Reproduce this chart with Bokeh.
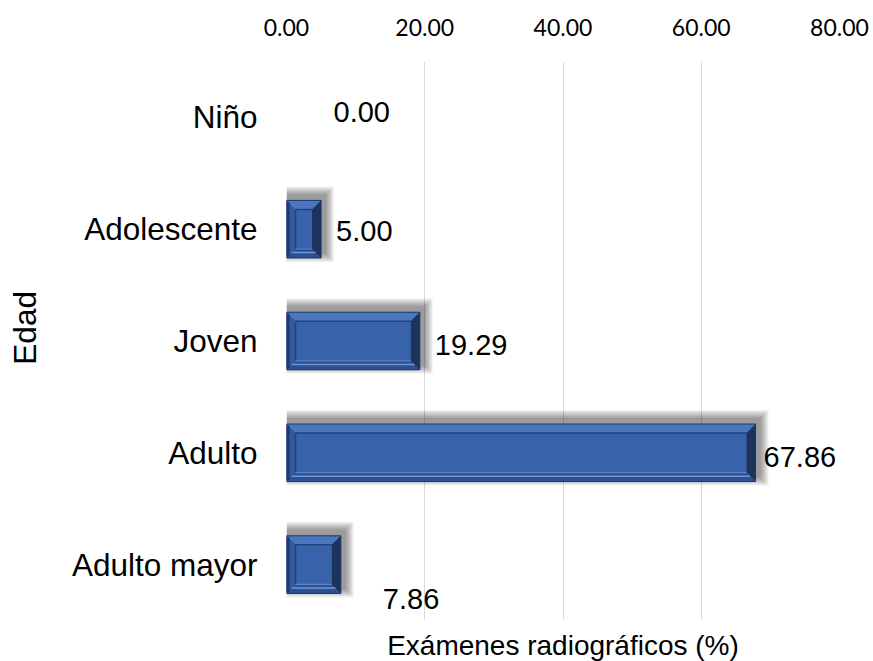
from bokeh.plotting import figure
from bokeh.models import Range1d, FixedTicker, LinearAxis, ColumnDataSource
from bokeh.core.properties import value
from bokeh.embed import file_html
from bokeh.resources import INLINE

# Data: share of radiographic exams by age group (%)
categories = ["Niño", "Adolescente", "Joven", "Adulto", "Adulto mayor"]
percentages = [0.00, 5.00, 19.29, 67.86, 7.86]
x_ticks = [0, 20, 40, 60, 80]
x_tick_labels = ["0.00", "20.00", "40.00", "60.00", "80.00"]

# Label nudges in screen pixels (x to the right, y downward)
label_dx = [47, 15, 15, 8, 42]
label_dy = [-5, 2, 4, 4, 34]

FRAME_W, FRAME_H = 553, 559
X_MAX = 80
N = len(categories)
PX_X = X_MAX / FRAME_W          # data units per pixel, horizontal
PX_Y = N / FRAME_H              # data units per pixel, vertical (range flipped)
BAR_H = 0.515

p = figure(
    width=873, height=661,
    frame_width=FRAME_W, frame_height=FRAME_H,
    x_range=Range1d(0, X_MAX), y_range=Range1d(N, 0),
    x_axis_location="above",
    output_backend="svg", toolbar_location=None,
    min_border_left=286, min_border_top=61,
    min_border_right=34, min_border_bottom=41,
    background_fill_color="white", border_fill_color="white",
)
p.outline_line_color = None

centers = [i + 0.5 for i in range(N)]

# Soft drop shadow: stacked translucent quads shifted up and to the right
SH_DX, SH_DY, SH_LAYERS = 4, -5, 9
for k in range(SH_LAYERS):
    grow = SH_LAYERS - k
    p.quad(
        left=[0 for v in percentages if v > 0],
        right=[v + (SH_DX + grow) * PX_X for v in percentages if v > 0],
        top=[c - BAR_H / 2 + (SH_DY - grow) * PX_Y for c, v in zip(centers, percentages) if v > 0],
        bottom=[c + BAR_H / 2 + (SH_DY + grow) * PX_Y for c, v in zip(centers, percentages) if v > 0],
        fill_color="black", fill_alpha=0.05, line_color=None,
    )

# Bevelled bars
BEV = 9
bx, by = BEV * PX_X, BEV * PX_Y
bars = [(c, v) for c, v in zip(centers, percentages) if v > 0]

top_xs, top_ys, bot_xs, bot_ys = [], [], [], []
lef_xs, lef_ys, rig_xs, rig_ys = [], [], [], []
for c, v in bars:
    x0, x1 = 0, v
    yt, yb = c - BAR_H / 2, c + BAR_H / 2
    top_xs.append([x0, x1, x1 - bx, x0 + bx]); top_ys.append([yt, yt, yt + by, yt + by])
    bot_xs.append([x0, x1, x1 - bx, x0 + bx]); bot_ys.append([yb, yb, yb - by, yb - by])
    lef_xs.append([x0, x0 + bx, x0 + bx, x0]); lef_ys.append([yt, yt + by, yb - by, yb])
    rig_xs.append([x1, x1 - bx, x1 - bx, x1]); rig_ys.append([yt, yt + by, yb - by, yb])

p.quad(left=[0] * len(bars), right=[v for _, v in bars],
       top=[c - BAR_H / 2 for c, _ in bars], bottom=[c + BAR_H / 2 for c, _ in bars],
       fill_color="#3862A9", line_color=None)
p.patches(top_xs, top_ys, fill_color="#4A77C0", line_color=None)
p.patches(bot_xs, bot_ys, fill_color="#2C5091", line_color=None)
p.patches(lef_xs, lef_ys, fill_color="#335A9E", line_color=None)
p.patches(rig_xs, rig_ys, fill_color="#1C345C", line_color=None)

# Highlight stripe in the lower bevel
p.segment(x0=[0.6 * bx for _ in bars], x1=[v - 0.6 * bx for _, v in bars],
          y0=[c + BAR_H / 2 - 0.6 * by for c, _ in bars],
          y1=[c + BAR_H / 2 - 0.6 * by for c, _ in bars],
          line_color="#6F97D8", line_width=1.5)
# Dark outer edge on the left bevel
p.segment(x0=[1.5 * PX_X for _ in bars], x1=[1.5 * PX_X for _ in bars],
          y0=[c - BAR_H / 2 + 1.5 * PX_Y for c, _ in bars],
          y1=[c + BAR_H / 2 - 1.5 * PX_Y for c, _ in bars],
          line_color="#1E3A68", line_width=3)

# Inner face edges: dark top/left, light bottom/right
p.segment(x0=[bx for _ in bars], x1=[v - bx for _, v in bars],
          y0=[c - BAR_H / 2 + by for c, _ in bars], y1=[c - BAR_H / 2 + by for c, _ in bars],
          line_color="#22427A", line_width=1.5)
p.segment(x0=[bx for _ in bars], x1=[bx for _ in bars],
          y0=[c - BAR_H / 2 + by for c, _ in bars], y1=[c + BAR_H / 2 - by for c, _ in bars],
          line_color="#22427A", line_width=1.5)
p.segment(x0=[bx for _ in bars], x1=[v - bx for _, v in bars],
          y0=[c + BAR_H / 2 - by for c, _ in bars], y1=[c + BAR_H / 2 - by for c, _ in bars],
          line_color="#5C84C6", line_width=1.2)

# Thin outline around each bar
p.quad(left=[0] * len(bars), right=[v for _, v in bars],
       top=[c - BAR_H / 2 for c, _ in bars], bottom=[c + BAR_H / 2 for c, _ in bars],
       fill_color=None, line_color="#1F3864", line_width=1)

# Value labels
src = ColumnDataSource(dict(
    x=percentages, y=centers,
    txt=[f"{v:.2f}" for v in percentages],
    dx=label_dx, dy=label_dy,
))
p.text(x="x", y="y", text="txt", x_offset="dx", y_offset="dy", source=src,
       text_font=value("Liberation Sans"), text_font_size="29px",
       text_color="black", text_align="left", text_baseline="middle")

# Top value axis
xa = p.xaxis[0]
xa.ticker = FixedTicker(ticks=x_ticks)
xa.major_label_overrides = {t: lab for t, lab in zip(x_ticks, x_tick_labels)}
xa.major_label_text_font = "Lato"
xa.major_label_text_font_size = "23px"
xa.major_label_text_color = "#000000"
xa.major_label_standoff = 20
xa.axis_line_color = None
xa.major_tick_line_color = None
xa.minor_tick_line_color = None

# Bottom axis carrying only the title
bottom = LinearAxis(ticker=FixedTicker(ticks=[]), axis_label="Exámenes radiográficos (%)")
bottom.axis_line_color = None
bottom.major_tick_line_color = None
bottom.minor_tick_line_color = None
bottom.major_label_standoff = 0
bottom.axis_label_standoff = 9
bottom.axis_label_text_font = "Liberation Sans"
bottom.axis_label_text_font_size = "28px"
bottom.axis_label_text_font_style = "normal"
bottom.axis_label_text_color = "black"
p.add_layout(bottom, "below")

# Category axis
ya = p.yaxis[0]
ya.ticker = FixedTicker(ticks=centers)
ya.major_label_overrides = {c: name for c, name in zip(centers, categories)}
ya.major_label_text_font = "Liberation Sans"
ya.major_label_text_font_size = "31.5px"
ya.major_label_text_color = "black"
ya.major_label_standoff = 23
ya.axis_line_color = None
ya.major_tick_line_color = None
ya.minor_tick_line_color = None
ya.axis_label = "\u00a0\u00a0\u00a0Edad"
ya.axis_label_text_font = "Liberation Sans"
ya.axis_label_text_font_size = "31.5px"
ya.axis_label_text_font_style = "normal"
ya.axis_label_text_color = "black"
ya.axis_label_standoff = 26

p.xgrid.grid_line_color = "#D9D9D9"
p.xgrid.grid_line_width = 1
p.ygrid.grid_line_color = None

open("out.html", "w").write(file_html(p, INLINE))
